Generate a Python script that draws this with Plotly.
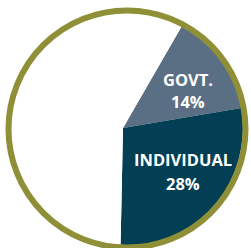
import plotly.graph_objects as go

labels = ["GOVT.", "INDIVIDUAL", "OTHER"]
values = [14, 28, 58]
show_label = [True, True, False]
colors = ["#5b6f84", "#023f55", "#ffffff"]

W, H = 251, 248
px_, py_ = 123, 128    # pie vertex in px (from top-left)
r_pie = 120
cx, cy = 127, 129      # ring centre
ring_r, ring_w = 118.5, 6
# label anchor positions (px from top-left): (x, y of name line, y of percent line)
label_pos = [(188, 79, 102), (183, 159, 183), None]

fig = go.Figure(go.Pie(
    labels=labels,
    values=values,
    textinfo="none",
    sort=False,
    direction="clockwise",
    rotation=30,
    marker=dict(colors=colors, line=dict(width=0)),
    showlegend=False,
    hoverinfo="none",
    domain=dict(x=[(px_ - r_pie) / W, (px_ + r_pie) / W],
                y=[max(0, (H - py_ - r_pie) / H), (H - py_ + r_pie) / H]),
))

fig.add_shape(type="circle", xref="paper", yref="paper",
              x0=(cx - ring_r) / W, x1=(cx + ring_r) / W,
              y0=(H - cy - ring_r) / H, y1=(H - cy + ring_r) / H,
              line=dict(color="#8e8f36", width=ring_w), fillcolor="rgba(0,0,0,0)",
              layer="above")

font = dict(family="Open Sans", size=16.5, color="white", weight="bold")
for lab, val, show, pos in zip(labels, values, show_label, label_pos):
    if not show:
        continue
    x, y1, y2 = pos
    for txt, yy in ((lab, y1), (f"{val}%", y2)):
        fig.add_annotation(text=txt, xref="paper", yref="paper",
                           x=x / W, y=(H - yy) / H, xanchor="center", yanchor="middle",
                           showarrow=False, font=font)

fig.update_layout(width=W, height=H, margin=dict(l=0, r=0, t=0, b=0),
                  paper_bgcolor="white", plot_bgcolor="white")
fig.write_html("out.html", config={"displayModeBar": False},
               post_script="document.body.style.margin='0';document.body.style.overflow='hidden';")
